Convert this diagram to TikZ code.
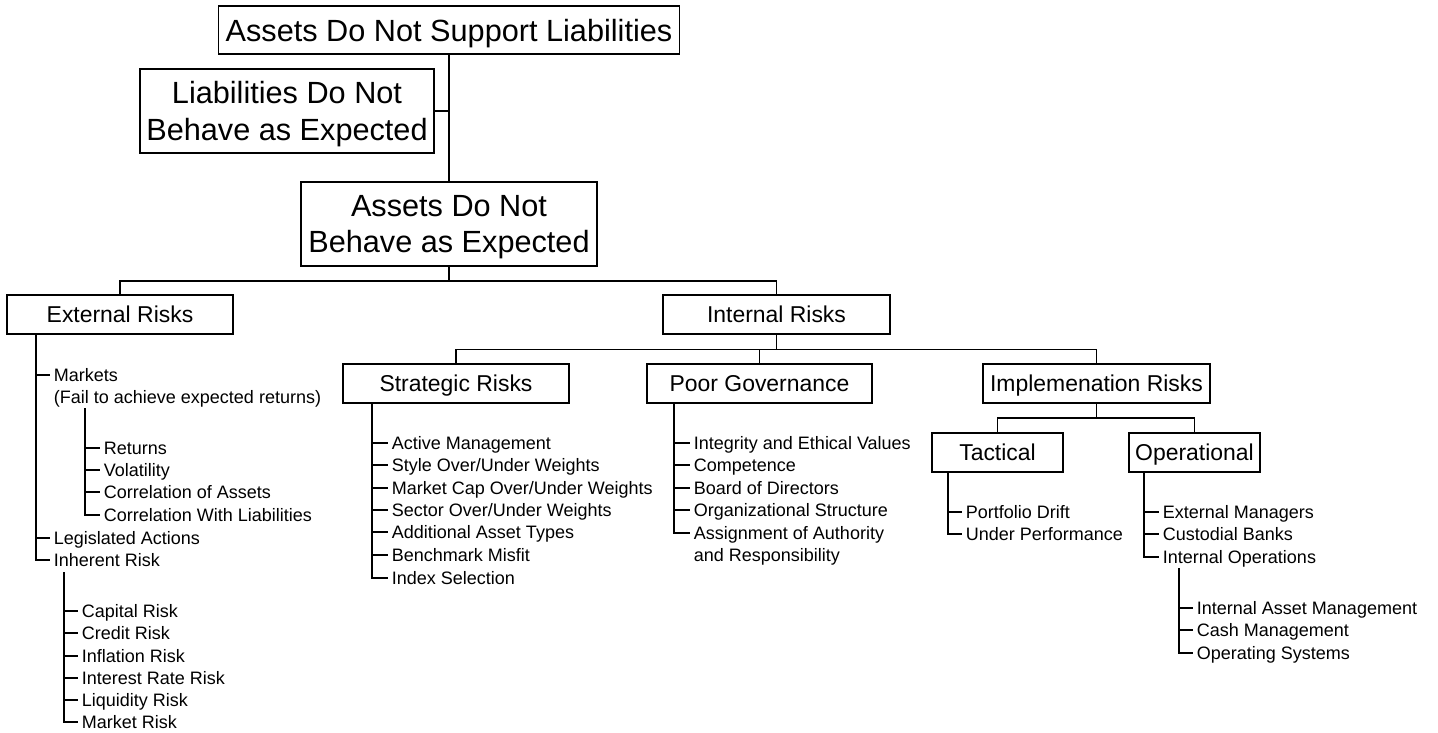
\documentclass[tikz,border=0pt]{standalone}
\usepackage{fontspec}
\setmainfont{Liberation Sans}
\begin{document}
\begin{tikzpicture}[x=0.75pt, y=-0.75pt, line width=0.9pt,
  bigbox/.style={draw, inner sep=0pt, align=center, text depth=0pt,
    font=\fontsize{23}{27.5}\selectfont},
  midbox/.style={draw, inner sep=0pt, minimum height=29.25pt, text depth=0pt,
    font=\fontsize{17.2}{20}\selectfont},
  leaf/.style={anchor=west, inner xsep=2.5pt, inner ysep=0pt,
    text height=9.7pt, text depth=0pt, font=\fontsize{13.5}{16}\selectfont},
]
\useasboundingbox (0,0) rectangle (1438,732);

% --- main boxes ---
\node[bigbox, minimum width=345.75pt, minimum height=36pt] (top) at (449,30)
  {Assets Do Not Support Liabilities};
\node[bigbox, minimum width=220.5pt, minimum height=63pt] (liab) at (287,111)
  {Liabilities Do Not\\Behave as Expected};
\node[bigbox, minimum width=222pt, minimum height=63pt] (mid) at (449,224)
  {Assets Do Not\\Behave as Expected};

\node[midbox, minimum width=169.5pt]  (ext)   at (120,314.5)   {External Risks};
\node[midbox, minimum width=170.25pt] (int)   at (776.5,314.5) {Internal Risks};
\node[midbox, minimum width=169.5pt]  (strat) at (456,383.5)   {Strategic Risks};
\node[midbox, minimum width=168.75pt] (poor)  at (759.5,383.5) {Poor Governance};
\node[midbox, minimum width=170.25pt] (impl)  at (1096.5,383.5){Implemenation Risks};
\node[midbox, minimum width=98.25pt]  (tac)   at (997.5,452.5) {Tactical};
\node[midbox, minimum width=98.25pt]  (ope)   at (1194.5,452.5){Operational};

% --- tree connectors between boxes ---
\draw (top) -- (mid);
\draw (liab.east) -- (liab.east -| top.south);
\coordinate (b1) at (449,281);
\draw (mid) -- (b1);
\draw (ext.north) |- (b1) -| (int.north);
\coordinate (b2) at (776.5,349.5);
\draw (int) -- (b2);
\draw (strat.north) |- (b2) -| (impl.north);
\draw (poor.north) -- (poor.north |- b2);
\coordinate (b3) at (1096.5,418);
\draw (impl) -- (b3);
\draw (tac.north) |- (b3) -| (ope.north);

% --- external risks list ---
\node[leaf] (mk)  at (50,375) {Markets};
\node[leaf] (mkb) at (50,397) {(Fail to achieve expected returns)};
\node[leaf] (ret) at (100,448) {Returns};
\node[leaf] (vol) at (100,470) {Volatility};
\node[leaf] (coa) at (100,492) {Correlation of Assets};
\node[leaf] (cwl) at (100,515) {Correlation With Liabilities};
\node[leaf] (leg) at (50,538) {Legislated Actions};
\node[leaf] (inh) at (50,560) {Inherent Risk};
\node[leaf] (cap) at (78,611) {Capital Risk};
\node[leaf] (cre) at (78,633) {Credit Risk};
\node[leaf] (inf) at (78,656) {Inflation Risk};
\node[leaf] (irr) at (78,678) {Interest Rate Risk};
\node[leaf] (liq) at (78,700) {Liquidity Risk};
\node[leaf] (mkr) at (78,722) {Market Risk};

\coordinate (extv) at (ext.south -| 36,0);
\foreach \n in {mk,leg,inh} \draw (extv) |- (\n.west);
\coordinate (mkv) at (85,408);
\foreach \n in {ret,vol,coa,cwl} \draw (mkv) |- (\n.west);
\coordinate (inhv) at (64,572);
\foreach \n in {cap,cre,inf,irr,liq,mkr} \draw (inhv) |- (\n.west);

% --- strategic risks list ---
\node[leaf] (am)  at (388,443) {Active Management};
\node[leaf] (sw)  at (388,465) {Style Over/Under Weights};
\node[leaf] (mc)  at (388,488) {Market Cap Over/Under Weights};
\node[leaf] (sec) at (388,510) {Sector Over/Under Weights};
\node[leaf] (aat) at (388,532) {Additional Asset Types};
\node[leaf] (bm)  at (388,555) {Benchmark Misfit};
\node[leaf] (ixs) at (388,578) {Index Selection};
\coordinate (stv) at (strat.south -| 372,0);
\foreach \n in {am,sw,mc,sec,aat,bm,ixs} \draw (stv) |- (\n.west);

% --- poor governance list ---
\node[leaf] (iev)  at (690,443) {Integrity and Ethical Values};
\node[leaf] (com)  at (690,465) {Competence};
\node[leaf] (bod)  at (690,488) {Board of Directors};
\node[leaf] (org)  at (690,510) {Organizational Structure};
\node[leaf] (aoa)  at (690,533) {Assignment of Authority};
\node[leaf] (aoa2) at (690,555) {and Responsibility};
\coordinate (pgv) at (poor.south -| 674,0);
\foreach \n in {iev,com,bod,org,aoa} \draw (pgv) |- (\n.west);

% --- tactical list ---
\node[leaf] (pd) at (962,512) {Portfolio Drift};
\node[leaf] (up) at (962,534) {Under Performance};
\coordinate (tcv) at (tac.south -| 948,0);
\foreach \n in {pd,up} \draw (tcv) |- (\n.west);

% --- operational list ---
\node[leaf] (em) at (1159,512) {External Managers};
\node[leaf] (cb) at (1159,534) {Custodial Banks};
\node[leaf] (io) at (1159,557) {Internal Operations};
\coordinate (opv) at (ope.south -| 1144,0);
\foreach \n in {em,cb,io} \draw (opv) |- (\n.west);

\node[leaf] (iam) at (1193,608) {Internal Asset Management};
\node[leaf] (cm)  at (1193,630) {Cash Management};
\node[leaf] (os)  at (1193,653) {Operating Systems};
\coordinate (iov) at (1179,568);
\foreach \n in {iam,cm,os} \draw (iov) |- (\n.west);
\end{tikzpicture}
\end{document}
